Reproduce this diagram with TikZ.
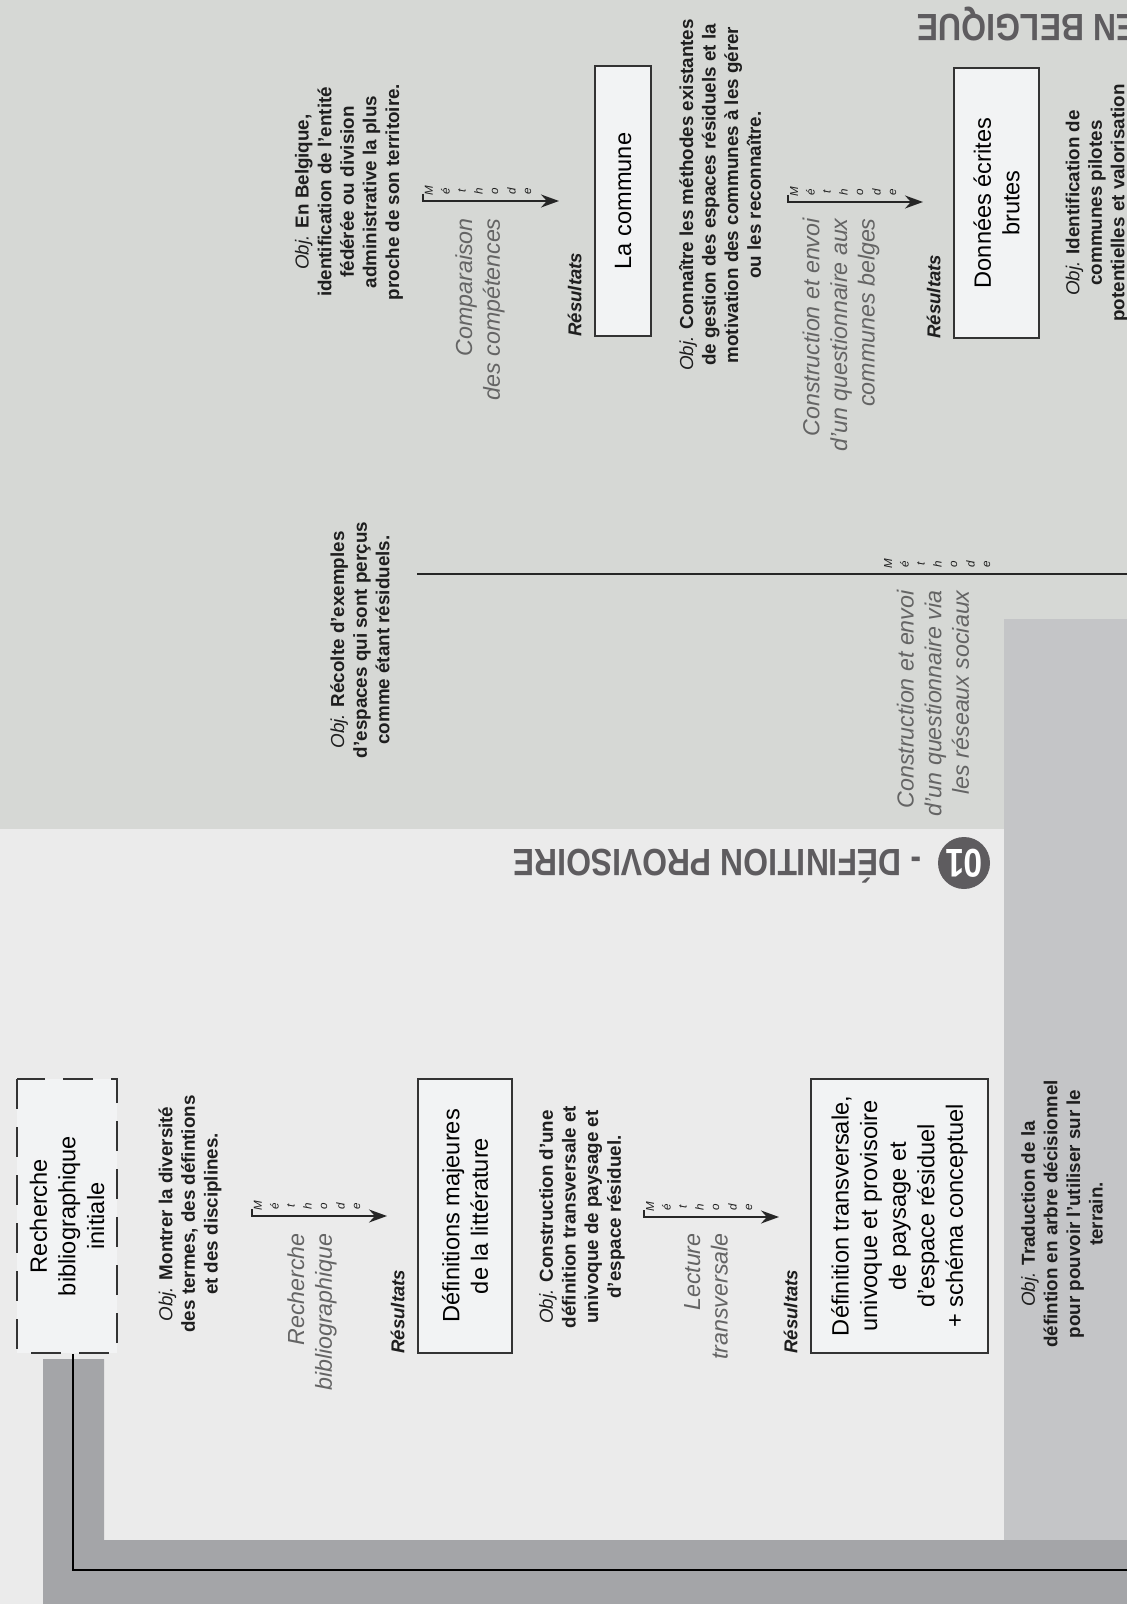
\documentclass[tikz,border=0pt]{standalone}
\usepackage{fontspec}
\setmainfont{Liberation Sans}
\newfontfamily\titrefont[FakeStretch=0.84]{Liberation Sans}
\usetikzlibrary{arrows.meta,calc}
\definecolor{fondhaut}{HTML}{D6D8D5}
\definecolor{fondbas}{HTML}{EBEBEB}
\definecolor{fondcol}{HTML}{C4C5C7}
\definecolor{barre}{HTML}{A4A5A8}
\definecolor{boite}{HTML}{F2F3F4}
\definecolor{gristitre}{HTML}{5E5C5F}
\definecolor{texte}{HTML}{1E1E1E}
\definecolor{methgris}{HTML}{646464}
\newcommand{\Obj}{{\mdseries\itshape Obj.}}
\begin{document}
\begin{tikzpicture}[x=0.5pt, y=-0.5pt,
    resultat/.style={draw=black!80, fill=boite, line width=1pt, rotate=90, align=center, inner sep=0pt, font=\fontsize{11.8}{14.3}\selectfont, minimum width=137pt},
    obj/.style={rotate=90, align=center, inner sep=0pt, text=texte, font=\fontsize{9.4}{11.3}\selectfont\bfseries},
    methtexte/.style={rotate=90, align=right, anchor=east, inner sep=0pt, text=methgris, font=\fontsize{11.6}{13.8}\selectfont\itshape},
    etiquette/.style={rotate=90, anchor=south west, inner sep=0pt, text=texte, font=\fontsize{9.3}{10}\selectfont\bfseries\itshape},
    lettre/.style={rotate=90, inner sep=0pt, text=texte, font=\fontsize{5.8}{6}\selectfont\itshape},
    fleche/.style={-{Stealth[length=9pt,width=6.5pt]}, line width=0.9pt, draw=black!85},
    titre/.style={rotate=180, inner sep=0pt, text height=13.6pt, text depth=0pt, text=gristitre, font=\titrefont\fontsize{19}{22}\selectfont\bfseries},
    pastille/.style={circle, fill=gristitre, text=white, inner sep=0pt, minimum size=26pt, rotate=180, font=\titrefont\fontsize{20}{22}\selectfont\bfseries}]
\useasboundingbox (0,0) rectangle (1127,1604);
\clip (0,0) rectangle (1127,1604);
% Fonds
\fill[fondhaut] (0,0) rectangle (1127,829);
\fill[fondbas] (0,829) rectangle (1004,1604);
\fill[fondcol] (1004,619) rectangle (1127,1604);
\fill[barre] (43,1359) -- (104,1359) -- (104,1540) -- (1127,1540) -- (1127,1604) -- (43,1604) -- cycle;
% Titres
\node[pastille] (p1) at (964,863) {01};
\node[titre, anchor=west] (t1) at ([xshift=-8pt]p1.east) {- DÉFINITION PROVISOIRE};
\node[titre, anchor=east] (t2) at (917,28) {EN BELGIQUE};
% Boites de résultats
\node[resultat, dashed, dash pattern=on 15pt off 9pt, minimum height=50pt] (rbi) at (67,1216) {Recherche\\bibliographique\\initiale};
\node[resultat, minimum height=47pt] (defmaj) at (465,1216) {Définitions majeures\\de la littérature};
\node[resultat, minimum height=88.5pt] (defprov) at (899.5,1216) {Définition transversale,\\univoque et provisoire\\de paysage et\\d'espace résiduel\\+ schéma conceptuel};
\node[resultat, minimum width=135pt, minimum height=28pt] (commune) at (623,201) {La commune};
\node[resultat, minimum width=135pt, minimum height=42.5pt] (donnees) at (996.5,203) {Données écrites\\brutes};
% Etiquettes Résultats
\foreach \b in {defmaj,defprov,commune,donnees}
  \node[etiquette] at ([xshift=-6pt]\b.north west) {Résultats};
% Objectifs
\node[obj] (obj1) at (190,1214) {\Obj{} Montrer la diversité\\des termes, des défintions\\et des disciplines.};
\node[obj] (obj2) at (582,1217) {\Obj{} Construction d'une\\définition transversale et\\univoque de paysage et\\d'espace résiduel.};
\node[obj] (obj3) at (1062,1214) {\Obj{} Traduction de la\\défintion en arbre décisionnel\\pour pouvoir l'utiliser sur le\\terrain.};
\node[obj] (obj4) at (349,192) {\Obj{} En Belgique,\\identification de l'entité\\fédérée ou division\\administrative la plus\\proche de son territoire.};
\node[obj] (obj5) at (720,195) {\Obj{} Connaître les méthodes existantes\\de gestion des espaces résiduels et la\\motivation des communes à les gérer\\ou les reconnaître.};
\node[obj] (obj6) at (1097,203) {\Obj{} Identification de\\communes pilotes\\potentielles et valorisation};
\node[obj] (obj7) at (360,640) {\Obj{} Récolte d'exemples\\d'espaces qui sont perçus\\comme étant résiduels.};
% Flèches Méthode
\coordinate (m1s) at (252,1216); \coordinate (m1e) at (387,1216);
\coordinate (m2s) at (423,201);  \coordinate (m2e) at (559,201);
\coordinate (m3s) at (788,202);  \coordinate (m3e) at (923,202);
\coordinate (m4s) at (644,1217); \coordinate (m4e) at (779,1217);
\foreach \s/\e in {m1s/m1e, m2s/m2e, m3s/m3e, m4s/m4e} {
  \draw[fleche] ([yshift=3.5pt]\s) -- (\s) -- (\e);
  \foreach \l [count=\i from 0] in {M,é,t,h,o,d,e}
    \node[lettre] at ($(\s)+(6+16.5*\i,-10)$) {\l};
}
% Ligne vers la droite (réseaux sociaux)
\coordinate (m5s) at (417,574); \coordinate (m5e) at (1140,574);
\draw[line width=0.9pt, draw=black!85] (m5s) -- (m5e);
\foreach \l [count=\i from 0] in {M,é,t,h,o,d,e}
  \node[lettre] at ($(888+16.5*\i,564)$) {\l};
% Textes Méthode
\node[methtexte] (mt1) at (312,1233) {Recherche\\bibliographique};
\node[methtexte] (mt2) at (480,218) {Comparaison\\des compétences};
\node[methtexte] (mt3) at (841,218) {Construction et envoi\\d'un questionnaire aux\\communes belges};
\node[methtexte] (mt4) at (706,1233) {Lecture\\transversale};
\node[methtexte] (mt5) at (933,590) {Construction et envoi\\d'un questionnaire via\\les réseaux sociaux};
% Fil conducteur
\coordinate (fin) at (1140,1570);
\draw[line width=0.8pt] ([xshift=3pt]rbi.west) |- (fin);
\end{tikzpicture}
\end{document}
